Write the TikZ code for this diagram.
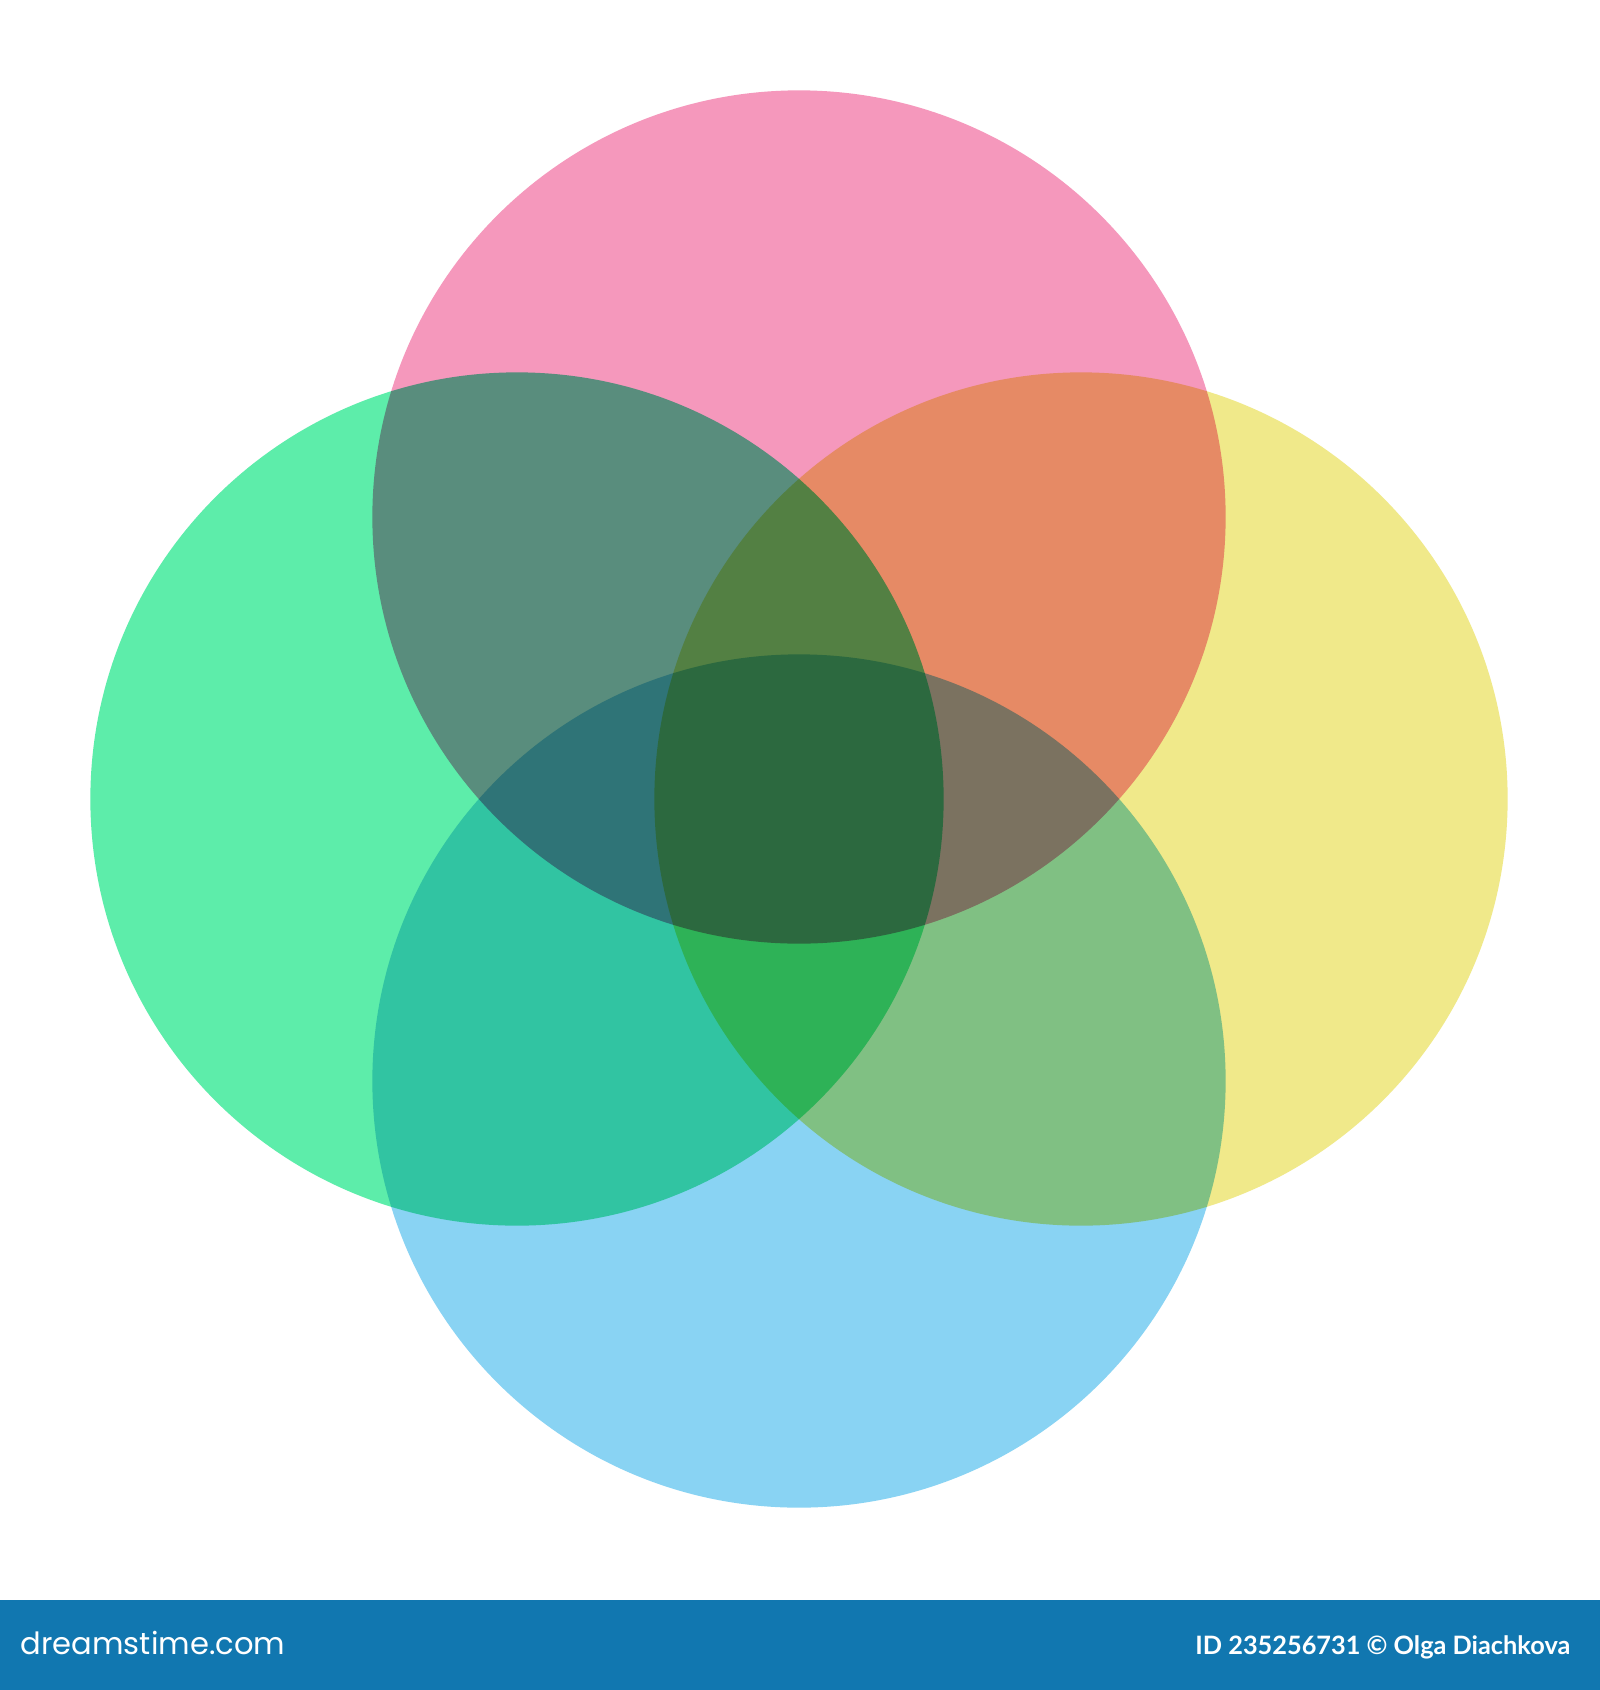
\documentclass[tikz,border=0pt]{standalone}
\usepackage{fontspec}
\newfontfamily\creditfont{Lato}
\newfontfamily\logofont{Poppins}
\definecolor{circpink}{HTML}{F598BC}
\definecolor{circgreen}{HTML}{5DEDAA}
\definecolor{circyellow}{HTML}{F0E98A}
\definecolor{circblue}{HTML}{89D3F3}
\definecolor{banner}{HTML}{1177B0}
\begin{document}
\begin{tikzpicture}[x=0.01cm,y=-0.01cm,font=\footnotesize]
			\useasboundingbox (0,0) rectangle (1600,1690);
			\fill[white] (0,0) rectangle (1600,1690);
			\begin{scope}[blend group=multiply]
			\fill[circpink] (799,517) circle[radius=4.264cm];
			\fill[circgreen] (517,799) circle[radius=4.264cm];
			\fill[circyellow] (1081,799) circle[radius=4.264cm];
			\fill[circblue] (799,1081) circle[radius=4.264cm];
			\end{scope}
			\fill[banner] (0,1600) rectangle (1600,1690);
			\node[anchor=base west,inner sep=0pt,text=white,font=\logofont\fontsize{8.7}{10}\selectfont] (logo) at (20,1654) {dreamstime.com};
			\node[anchor=base east,inner sep=0pt,text=white,font=\creditfont\bfseries\fontsize{7.2}{8}\selectfont] (credit) at (1571,1654) {ID 235256731 © Olga Diachkova};
		\end{tikzpicture}
\end{document}
